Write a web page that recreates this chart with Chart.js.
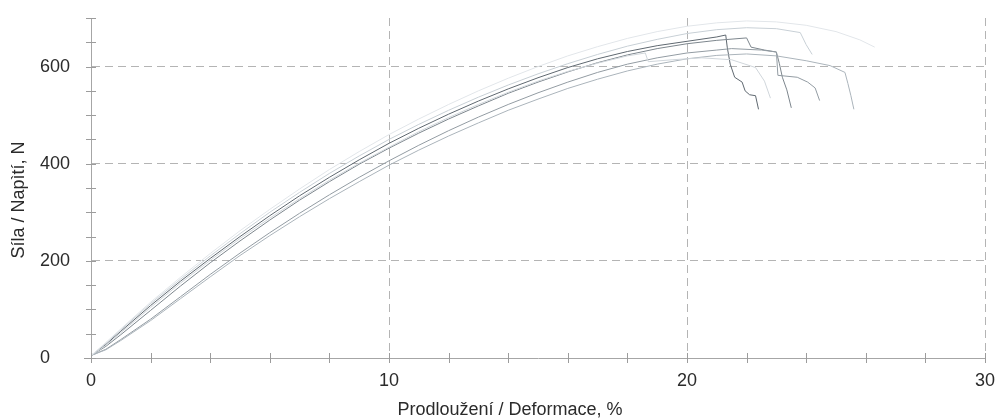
<!DOCTYPE html>
<html>
<head>
<meta charset="utf-8">
<script src="https://cdn.jsdelivr.net/npm/chart.js@4/dist/chart.umd.min.js"></script>
<style>
  html, body { margin: 0; background: #fff; }
</style>
</head>
<body>
<canvas id="chart" width="996" height="419"></canvas>
<script>
// strain (%) and force (N), one pair per specimen
const strain1 = [0, 0.5, 1, 2, 3, 4, 5, 6, 7, 8, 9, 10, 11, 12, 13, 14, 15, 16, 17, 18, 19, 20, 21, 22, 23, 24, 25, 25.8, 26.3]
const force1  = [5, 32, 60, 115, 166, 215, 262, 306, 348, 388, 425, 460, 492, 522, 550, 576, 600, 622, 641, 658, 672, 683, 690, 694, 692, 685, 672, 655, 640]

const strain2 = [0, 0.5, 1, 2, 3, 4, 5, 6, 7, 8, 9, 10, 11, 12, 13, 14, 15, 16, 17, 18, 19, 20, 21, 22, 23, 23.8, 24.0, 24.2]
const force2  = [5, 30, 58, 112, 162, 210, 256, 300, 341, 380, 416, 450, 481, 510, 537, 562, 585, 606, 625, 642, 656, 668, 676, 680, 678, 670, 645, 625]

const strain7 = [0, 0.5, 1, 2, 3, 4, 5, 6, 7, 8, 9, 10, 11, 12, 13, 14, 15, 16, 17, 18, 18.6, 18.7, 19.5, 20.5, 21.5, 22.3, 22.6, 22.8]
const force7  = [5, 26, 52, 104, 154, 201, 246, 288, 328, 366, 401, 434, 466, 495, 522, 547, 570, 590, 607, 622, 628, 610, 614, 618, 614, 598, 570, 535]

const strain6 = [0, 0.5, 1, 2, 3, 4, 5, 6, 7, 8, 9, 10, 11, 12, 13, 14, 15, 16, 17, 18, 19, 20, 21, 22, 23, 24, 24.8, 25.3, 25.4, 25.5, 25.6]
const force6  = [5, 17, 36, 77, 122, 167, 211, 252, 291, 328, 363, 397, 428, 457, 484, 510, 533, 555, 574, 591, 605, 616, 623, 626, 622, 612, 602, 588, 565, 540, 512]

const strain5 = [0, 0.5, 1, 2, 3, 4, 5, 6, 7, 8, 9, 10, 11, 12, 13, 14, 15, 16, 17, 18, 19, 20, 21, 21.5, 22.5, 23.0, 23.05, 23.7, 24.05, 24.3, 24.45]
const force5  = [5, 18, 38, 80, 126, 172, 216, 258, 298, 336, 372, 406, 438, 468, 496, 522, 546, 568, 588, 605, 618, 628, 634, 637, 634, 630, 582, 578, 568, 556, 530]

const strain4 = [0, 0.5, 1, 2, 3, 4, 5, 6, 7, 8, 9, 10, 11, 12, 13, 14, 15, 16, 17, 18, 19, 20, 21, 22, 22.15, 22.6, 23.0, 23.1, 23.2, 23.35, 23.5]
const force4  = [5, 24, 48, 98, 148, 196, 241, 284, 325, 363, 399, 432, 463, 492, 519, 545, 568, 589, 608, 624, 637, 647, 654, 659, 640, 634, 630, 606, 578, 552, 515]

const strain3 = [0, 0.5, 1, 2, 3, 4, 5, 6, 7, 8, 9, 10, 11, 12, 13, 14, 15, 16, 17, 18, 19, 20, 21, 21.3, 21.35, 21.45, 21.6, 21.85, 21.95, 22.1, 22.3, 22.4]
const force3  = [5, 28, 55, 108, 158, 205, 250, 293, 334, 372, 408, 442, 473, 502, 529, 554, 577, 598, 616, 631, 643, 652, 661, 665, 640, 605, 578, 568, 550, 542, 540, 512]

const lineColors = ['#e2e6ea', '#c8d0d6', '#d0d6db', '#abb4bb', '#939ca3', '#7d868d', '#5f6870']

const xTickLabels = [0, 10, 20, 30]
const yTickLabels = [0, 200, 400, 600]
const xTitle = 'Prodloužení / Deformace, %'
const yTitle = 'Síla / Napìtí, N'

const series = [
  [strain1, force1], [strain2, force2], [strain7, force7], [strain6, force6],
  [strain5, force5], [strain4, force4], [strain3, force3]
]

const toPoints = (xs, ys) => xs.map((x, i) => ({ x: x, y: ys[i] }))

const datasets = series.map((s, i) => ({
  data: toPoints(s[0], s[1]),
  showLine: true,
  borderColor: lineColors[i],
  borderWidth: 1,
  pointRadius: 0,
  tension: 0
}))

// little "+" ticks crossing both axes
const crossTicks = {
  id: 'crossTicks',
  afterDraw(chart) {
    const { ctx, scales: { x, y } } = chart
    ctx.save()
    ctx.strokeStyle = '#9c9c9c'
    ctx.lineWidth = 1
    ctx.beginPath()
    for (let v = 0; v <= 700; v += 50) {
      const py = Math.round(y.getPixelForValue(v)) + 0.5
      ctx.moveTo(x.left - 5, py)
      ctx.lineTo(x.left + 5, py)
    }
    for (let v = 0; v <= 30; v += 2) {
      const px = Math.round(x.getPixelForValue(v)) + 0.5
      ctx.moveTo(px, y.bottom - 5)
      ctx.lineTo(px, y.bottom + 5)
    }
    ctx.moveTo(x.left - 7, Math.round(y.bottom) + 0.5)
    ctx.lineTo(x.left, Math.round(y.bottom) + 0.5)
    ctx.stroke()
    ctx.restore()
  }
}

const axisTitles = {
  id: 'axisTitles',
  afterDraw(chart) {
    const ctx = chart.ctx
    ctx.save()
    ctx.fillStyle = '#2b2b2b'
    ctx.font = '18px "Liberation Sans", Arial, sans-serif'
    ctx.textAlign = 'center'
    ctx.textBaseline = 'middle'
    ctx.fillText(xTitle, 510, 410)
    ctx.translate(19, 200)
    ctx.rotate(-Math.PI / 2)
    ctx.fillText(yTitle, 0, 0)
    ctx.restore()
  }
}

const dashGrid = (step) => (c) =>
  (c.tick && c.tick.value % step === 0 && c.tick.value > 0) ? '#b4b4b4' : 'transparent'

new Chart(document.getElementById('chart'), {
  type: 'scatter',
  data: { datasets: datasets },
  options: {
    responsive: false,
    animation: false,
    layout: { padding: { top: 18, right: 11, left: 0, bottom: 0 } },
    plugins: { legend: { display: false }, tooltip: { enabled: false } },
    scales: {
      x: {
        type: 'linear',
        min: 0,
        max: 30,
        afterFit: s => { s.height = 61; s.paddingLeft = 0; s.paddingRight = 0 },
        ticks: {
          stepSize: 2,
          autoSkip: false,
          maxRotation: 0,
          padding: 12,
          color: '#2b2b2b',
          font: { family: '"Liberation Sans", Arial, sans-serif', size: 18 },
          callback: v => xTickLabels.includes(v) ? String(v) : ''
        },
        grid: { color: dashGrid(10), lineWidth: 1, drawTicks: false },
        border: { color: '#a6a6a6', width: 1, dash: [8, 5] }
      },
      y: {
        min: 0,
        max: 700,
        afterFit: s => { s.width = 91; s.paddingTop = 0; s.paddingBottom = 0 },
        ticks: {
          stepSize: 50,
          autoSkip: false,
          padding: 21,
          color: '#2b2b2b',
          font: { family: '"Liberation Sans", Arial, sans-serif', size: 18 },
          callback: v => yTickLabels.includes(v) ? (v === 0 ? '0    ' : String(v)) : ''
        },
        grid: { color: dashGrid(200), lineWidth: 1, drawTicks: false },
        border: { color: '#a6a6a6', width: 1, dash: [8, 5] }
      }
    }
  },
  plugins: [crossTicks, axisTitles]
})
</script>
</body>
</html>
